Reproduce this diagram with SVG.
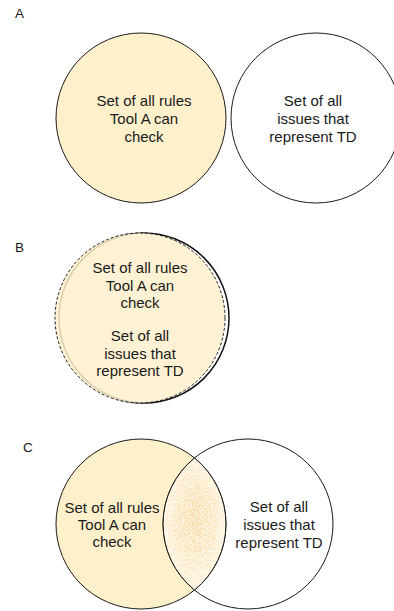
<svg xmlns="http://www.w3.org/2000/svg" width="394" height="611" viewBox="0 0 394 611">
<style>
text{font-family:"Liberation Sans",Arial,sans-serif;fill:#1a1a1a}
.lbl{font-size:13.5px}
.t{font-size:15px;text-anchor:middle}
.set{stroke:#1a1a1a;stroke-width:1}
.tool{fill:#FFF0CC}
.td{fill:#ffffff}
</style>
<defs>
<radialGradient id="lensGrad" cx="0.5" cy="0.5" r="0.5" fx="0.5" fy="0.45">
<stop offset="0" stop-color="#F8DCA4"/>
<stop offset="0.6" stop-color="#FBE7C0"/>
<stop offset="1" stop-color="#FFF4DE"/>
</radialGradient>
<filter id="speck" x="0" y="0" width="1" height="1">
<feTurbulence type="fractalNoise" baseFrequency="1.2" numOctaves="1" seed="7" result="n"/>
<feColorMatrix in="n" type="matrix" values="0 0 0 0 1  0 0 0 0 1  0 0 0 0 1  -6 0 0 0 3.2" result="w"/>
<feComposite in="w" in2="SourceGraphic" operator="in"/>
</filter>
</defs>
<g id="panel-labels">
<text class="lbl" x="15" y="18">A</text>
<text class="lbl" x="15" y="252">B</text>
<text class="lbl" x="23" y="452">C</text>
</g>
<g id="A-tool">
<circle class="set tool" cx="141" cy="118" r="85"/>
<text class="t" x="144" y="106">Set of all rules</text>
<text class="t" x="144" y="124">Tool A can</text>
<text class="t" x="144" y="142">check</text>
</g>
<g id="A-td">
<circle class="set td" cx="316" cy="118" r="85"/>
<text class="t" x="313" y="106">Set of all</text>
<text class="t" x="313" y="124">issues that</text>
<text class="t" x="313" y="142">represent TD</text>
</g>
<g id="B-td">
<circle cx="144" cy="318" r="85" fill="#ffffff" stroke="#111" stroke-width="1.5"/>
</g>
<g id="B-tool">
<circle cx="140" cy="318" r="85" fill="#FFF0CC" fill-opacity="0.85" stroke="#1a1a1a" stroke-width="1" stroke-dasharray="3 2"/>
<text class="t" x="140" y="273">Set of all rules</text>
<text class="t" x="140" y="291">Tool A can</text>
<text class="t" x="140" y="308">check</text>
<text class="t" x="140" y="341">Set of all</text>
<text class="t" x="140" y="359">issues that</text>
<text class="t" x="140" y="376">represent TD</text>
</g>
<g id="C-tool">
<circle class="set tool" cx="141" cy="524" r="85"/>
</g>
<g id="C-td">
<circle class="set td" cx="248" cy="524" r="85" fill-opacity="0"/>
</g>
<g id="C-overlap">
<path d="M194.5 458 A85 85 0 0 1 194.5 590 A85 85 0 0 1 194.5 458 Z" fill="url(#lensGrad)"/>
<path d="M194.5 458 A85 85 0 0 1 194.5 590 A85 85 0 0 1 194.5 458 Z" fill="#000" filter="url(#speck)" opacity="0.9"/>
<path d="M194.5 458 A85 85 0 0 1 194.5 590 A85 85 0 0 1 194.5 458 Z" fill="none" stroke="#1a1a1a" stroke-width="1"/>
</g>
<g id="C-texts">
<text class="t" x="112" y="513">Set of all rules</text>
<text class="t" x="112" y="530">Tool A can</text>
<text class="t" x="112" y="547">check</text>
<text class="t" x="279" y="512">Set of all</text>
<text class="t" x="279" y="530">issues that</text>
<text class="t" x="279" y="548">represent TD</text>
</g>
</svg>
